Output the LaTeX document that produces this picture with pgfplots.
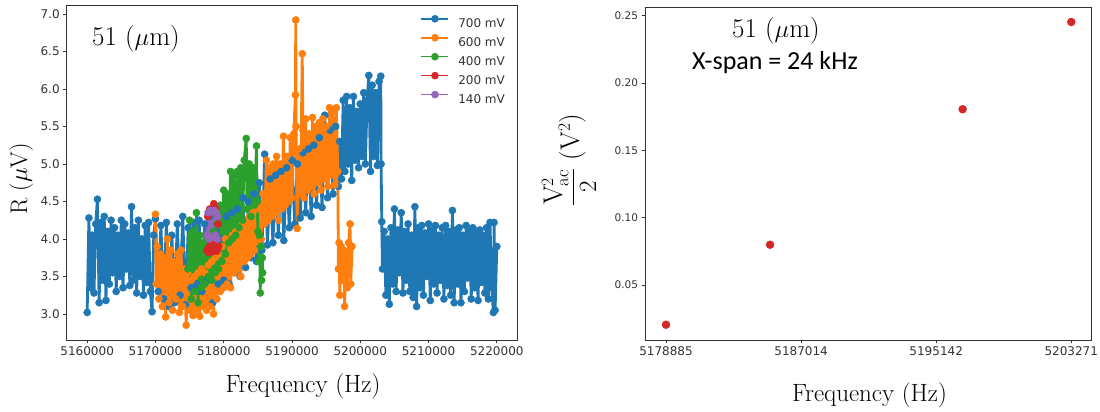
\documentclass[border=0pt]{standalone}
\usepackage{fontspec}
\usepackage{pgfplots}
\pgfplotsset{compat=1.18}
\newfontfamily\dejavu{DejaVu Sans}
\newfontfamily\carlito{Carlito}
\definecolor{c700}{HTML}{1F77B4}
\definecolor{c600}{HTML}{FF7F0E}
\definecolor{c400}{HTML}{2CA02C}
\definecolor{c200}{HTML}{D62728}
\definecolor{c140}{HTML}{9467BD}
\definecolor{axisgray}{HTML}{333333}
\pgfplotsset{
  mplstyle/.style={
    scale only axis, anchor=south west,
    tick align=outside, major tick length=3.5pt,
    xtick pos=left, ytick pos=left,
    tick style={axisgray, line width=0.8pt},
    axis line style={axisgray, line width=0.8pt},
    scaled ticks=false,
  },
}
\begin{document}
\begin{tikzpicture}
\useasboundingbox (0pt,0pt) rectangle (1100pt,412pt);
% Left panel: x = frequency in Hz above 5160000 Hz (tick labels give the absolute frequency)
\begin{axis}[mplstyle,
  at={(66.7pt,72pt)}, width=450.6pt, height=334.3pt,
  xmin=-3000, xmax=63000, ymin=2.653, ymax=7.11,
  xtick={0,10000,20000,30000,40000,50000,60000},
  xticklabels={5160000,5170000,5180000,5190000,5200000,5210000,5220000},
  ytick={3,3.5,4,4.5,5,5.5,6,6.5,7},
  yticklabels={3.0,3.5,4.0,4.5,5.0,5.5,6.0,6.5,7.0},
  ticklabel style={font=\dejavu\fontsize{12}{13}\selectfont, text=axisgray},
  every axis plot/.append style={line width=2.8pt, line join=round, mark=*, mark size=3.6pt, mark options={line width=0.4pt}},
  legend style={draw=none, fill=none, inner sep=0pt, outer sep=0pt,
    at={(0.7856,0.9716)}, anchor=north west,
    font=\dejavu\fontsize{12}{13}\selectfont, text=axisgray,
    row sep=6.9pt, column sep=9pt,
    nodes={inner sep=0pt, text height=8.5pt, text depth=0pt}},
  legend cell align=left,
  legend image code/.code={\draw[mark repeat=2,mark phase=2,#1,line width=1.6pt] plot coordinates {(0pt,4.2pt) (13.5pt,4.2pt) (27pt,4.2pt)};},
]
% 700 mV
\addplot[color=c700] coordinates {
(0,3.02)(250,4.28)(500,3.35)(750,4.05)(1000,3.28)(1250,4.20)(1500,4.53)(1750,3.15)(2000,4.22)(2250,3.45)
(2500,4.30)(2750,3.18)(3000,4.10)(3250,3.40)(3500,4.25)(3750,3.55)(4000,4.15)(4250,3.30)(4500,4.05)(4750,3.50)
(5000,4.25)(5250,3.35)(5500,4.20)(5750,3.60)(6000,4.08)(6250,3.38)(6500,4.43)(6750,3.45)(7000,4.15)(7250,3.28)
(7500,4.25)(7750,3.50)(8000,4.00)(8250,3.25)(8500,4.18)(8750,3.42)(9000,4.22)(9250,3.30)(9500,3.03)(9750,4.05)
(10000,4.27)(10400,3.30)(10800,4.18)(11200,3.20)(11600,4.22)(12000,3.10)(12400,4.05)(12800,3.15)(13200,4.20)(13600,3.25)
(14000,4.30)(14400,3.12)(14800,4.15)(15200,3.35)(15600,4.22)(16000,3.40)(16400,4.25)(16800,3.30)(17200,4.20)(17600,3.45)
(18000,4.30)(18400,3.15)(18800,4.10)(19200,3.40)(19600,4.00)
(20000,3.45)(20400,4.30)(20800,3.40)(21200,4.35)(21600,3.55)(22000,4.40)(22400,3.50)(22800,4.55)(23200,3.62)(23600,4.50)
(24000,3.75)(24400,4.60)(24800,3.70)(25200,4.75)(25600,3.85)(26000,5.13)(26400,3.92)(26800,4.80)(27200,3.95)(27600,4.85)
(28000,4.05)(28400,4.90)(28800,3.98)(29200,4.95)(29600,4.15)(30000,5.05)(30400,4.20)(30800,5.00)(31200,4.28)(31600,5.15)
(32000,4.35)(32400,5.20)(32800,4.30)(33200,5.25)(33600,4.45)(34000,5.35)(34400,4.42)(34800,5.65)(35200,4.55)(35600,5.45)
(36000,4.60)(36400,5.50)(36800,4.70)
(37000,5.30)(37250,4.80)(37500,5.85)(37750,4.90)(38000,5.90)(38250,5.00)(38500,5.75)(38750,4.78)(39000,5.90)(39250,5.05)
(39500,5.70)(39750,4.95)(40000,5.80)(40250,5.10)(40500,5.95)(40750,5.00)(41000,5.85)(41250,6.18)(41500,4.90)(41750,6.05)
(42000,5.10)(42250,5.95)(42500,4.98)(42750,6.10)(43000,6.17)(43050,5.00)(43150,4.23)
(43250,3.60)(43500,4.10)(43750,3.25)(44000,4.00)(44250,3.13)(44500,4.15)(44750,3.40)(45000,4.40)(45250,3.30)(45500,4.12)
(45750,3.55)(46000,4.35)(46250,3.28)(46500,4.10)(46750,3.45)(47000,4.20)(47250,3.30)(47500,4.05)(47750,3.22)(48000,4.43)
(48250,3.10)(48500,4.15)(48750,3.35)(49000,4.18)(49250,3.25)(49500,4.08)(49750,3.50)(50000,4.20)(50250,3.18)(50500,4.12)
(50750,3.40)(51000,4.18)(51250,3.28)(51500,4.05)(51750,3.45)(52000,4.15)(52250,3.20)(52500,4.18)(52750,3.38)(53000,4.10)
(53250,3.25)(53500,4.38)(53750,3.15)(54000,4.12)(54250,3.40)(54500,4.15)(54750,3.15)(55000,4.05)(55250,3.30)(55500,4.18)
(55750,3.48)(56000,4.10)(56250,3.20)(56500,4.15)(56750,3.35)(57000,4.08)(57250,3.18)(57500,4.12)(57750,3.42)(58000,4.05)
(58250,3.28)(58500,4.15)(58750,3.20)(59000,4.22)(59250,3.35)(59500,3.02)(59600,4.22)(59750,3.05)(60000,3.90)
};
\addlegendentry{700 mV}
% 600 mV
\addplot[color=c600] coordinates {
(10000,4.33)(10100,3.40)(10250,3.90)(10500,3.20)(10750,3.80)(11000,3.10)(11250,3.75)(11500,2.96)(11750,4.00)(12000,3.15)
(12250,3.85)(12500,3.05)(12750,3.70)(13000,3.20)(13250,3.80)(13500,3.02)(13750,3.85)(14000,3.10)(14250,3.60)(14500,2.85)
(14750,3.55)(15000,3.05)
(15250,3.45)(15500,2.98)(15750,3.50)(16000,3.00)(16250,3.55)(16500,2.97)(16750,3.60)(17000,3.10)(17250,3.55)(17500,3.05)
(17750,3.65)(18000,3.10)(18250,3.70)(18500,3.00)(18750,3.75)(19000,3.20)(19250,3.80)(19500,3.30)(19750,3.90)(20000,3.35)
(20250,4.00)(20500,3.40)(20750,3.95)(21000,3.35)(21250,4.05)(21500,3.55)(21750,4.10)(22000,3.60)(22250,4.15)(22500,3.50)
(22750,4.20)(23000,3.70)(23250,4.25)(23500,3.75)(23750,4.30)(24000,3.80)(24250,4.35)(24500,3.85)(24750,4.40)(25000,3.95)
(25250,4.45)(25500,4.00)(25750,4.60)
(26000,4.20)(26250,5.05)(26500,4.25)(26750,4.95)(27000,4.30)(27250,5.00)(27500,4.35)(27750,5.10)(28000,4.25)(28250,5.00)
(28500,4.40)(28750,5.37)(29000,4.45)(29250,5.10)(29500,4.50)(29750,5.35)(30000,4.55)(30250,5.40)(30500,5.92)(30550,6.92)
(30600,5.50)(30750,4.14)(31000,5.20)(31250,4.60)(31500,6.47)(31600,5.45)(31750,4.55)(32000,5.60)(32250,4.65)(32500,5.40)
(32750,4.70)(33000,5.62)(33250,4.60)(33500,5.50)(33750,4.75)(34000,5.55)(34250,4.65)(34500,5.60)(34750,4.80)(35000,5.50)
(35250,4.70)(35500,5.75)(35750,4.85)(36000,5.70)(36250,4.72)(36500,5.75)(36700,4.90)
(36800,3.60)(36900,3.95)(37000,3.25)(37200,3.90)(37400,3.45)(37600,3.85)(37700,3.10)(37900,3.80)(38100,3.35)(38300,3.95)
(38500,4.20)(38600,3.40)(38800,3.90)
};
\addlegendentry{600 mV}
% 400 mV
\addplot[color=c400] coordinates {
(14750,3.60)(15000,4.25)(15250,3.20)(15500,4.10)(15750,3.30)(16000,4.35)(16250,3.15)(16500,4.05)(16750,3.35)(17000,3.95)
(17250,3.40)(17500,4.00)(17750,3.50)(18000,4.05)(18250,3.45)(18500,4.10)(18750,3.55)(19000,4.20)(19250,3.60)(19500,4.45)
(19750,3.70)(20000,4.65)(20250,3.80)(20500,4.60)(20750,3.95)(21000,4.90)(21250,4.00)(21500,4.85)(21750,4.05)(22000,4.90)
(22250,4.15)(22500,4.95)(22750,4.25)(23000,5.05)(23300,5.34)(23400,4.40)(23750,5.00)(24000,4.30)(24250,4.95)(24500,4.45)
(24800,5.24)(24900,4.50)(25000,4.10)(25150,3.70)(25250,4.05)(25350,3.28)(25450,3.90)(25550,3.45)(25650,3.75)(25700,3.55)
};
\addlegendentry{400 mV}
% 200 mV
\addplot[color=c200] coordinates {
(17500,3.85)(17650,4.30)(17800,3.82)(17950,4.40)(18100,3.90)(18250,4.35)(18400,3.83)(18550,4.47)(18700,3.88)(18850,4.40)
(19000,3.84)(19150,4.20)(19250,3.90)
};
\addlegendentry{200 mV}
% 140 mV
\addplot[color=c140] coordinates {
(17550,4.05)(17700,4.35)(17850,4.00)(18000,4.38)(18150,4.03)(18300,4.36)(18450,4.02)(18600,4.38)(18750,4.05)(18900,4.35)
(19050,4.00)(19100,4.30)
};
\addlegendentry{140 mV}
\end{axis}

% Right panel: x = frequency in Hz above 5178885 Hz (tick labels give the absolute frequency)
\begin{axis}[mplstyle,
  at={(645pt,72pt)}, width=446.7pt, height=332.7pt,
  xmin=-1265, xmax=25615, ymin=0.00916, ymax=0.2562,
  xtick={0,8129,16257,24386},
  xticklabels={5178885,5187014,5195142,5203271},
  ytick={0.05,0.1,0.15,0.2,0.25},
  yticklabels={0.05,0.10,0.15,0.20,0.25},
  x tick label style={font=\dejavu\fontsize{12}{13}\selectfont, text=axisgray},
  y tick label style={font=\dejavu\fontsize{10.5}{12}\selectfont, text=axisgray},
]
\addplot[only marks, mark=*, mark size=4pt, color=c200] coordinates {
(0,0.0205)(6260,0.0799)(17848,0.1805)(24386,0.2453)
};
\end{axis}

% titles and labels
\node[font=\fontsize{27}{30}\selectfont] at (136pt,373pt) {51 ($\mu$m)};
\node[font=\fontsize{27}{30}\selectfont] at (776pt,381pt) {51 ($\mu$m)};
\node[font=\carlito\fontsize{26}{30}\selectfont] at (775pt,349pt) {X-span = 24 kHz};
\node[rotate=90, anchor=base, font=\fontsize{24}{28}\selectfont] at (27pt,233pt) {R ($\mu$V)};
\node[anchor=base, font=\fontsize{25}{28}\selectfont] at (303pt,19.3pt) {Frequency (Hz)};
\node[anchor=base, font=\fontsize{25}{28}\selectfont] at (869.5pt,10.3pt) {Frequency (Hz)};
\node[rotate=90, anchor=base, font=\fontsize{27}{30}\selectfont] at (579pt,252pt) {$\displaystyle\frac{\mathrm{V}_{\mathrm{ac}}^{2}}{2}$ (V$^{2}$)};
\end{tikzpicture}
\end{document}
